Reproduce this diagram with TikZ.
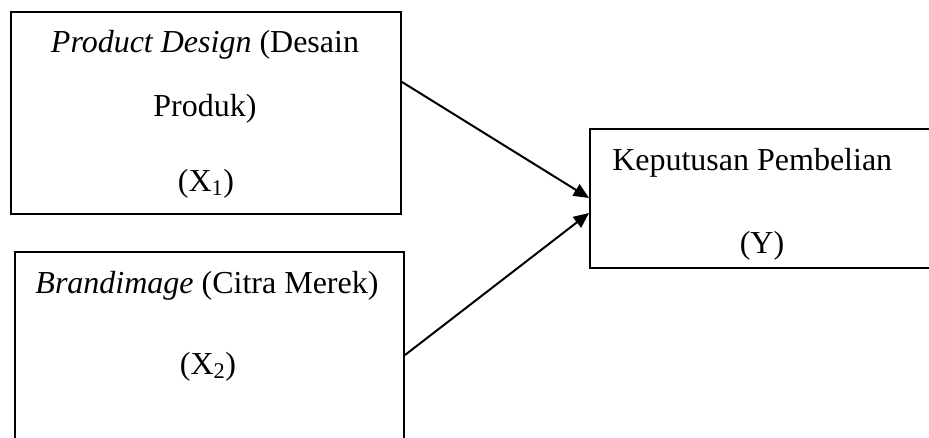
\documentclass[tikz,border=0pt]{standalone}
\usepackage{fontspec}
\setmainfont{Liberation Serif}
\usetikzlibrary{arrows.meta, positioning, calc}
\tikzset{
    varbox/.style={draw, line width=1.5pt, inner sep=0pt, anchor=north west},
    boxtext/.style={anchor=base, inner sep=0pt, font=\fontsize{24}{28}\selectfont},
    link/.style={line width=1.5pt, -{Triangle[length=11.5pt,width=10pt]}}
}

\begin{document}
\begin{tikzpicture}[x=0.75pt, y=-0.75pt]
    % Frame of the picture, boxes running past it are cut off
    \clip (0,0) rectangle (929,437);

    % Variable boxes
    \node[varbox, minimum width=292.5pt, minimum height=151.5pt] (pd) at (10,11) {};
    \node[varbox, minimum width=291.75pt, minimum height=160pt] (bi) at (14,251) {};
    \node[varbox, minimum width=261pt, minimum height=104.25pt] (kp) at (589,128) {};

    % Texts inside the boxes
    \node[boxtext] (pd title) at (205,52) {\textit{Product Design} (Desain};
    \node[boxtext] (pd title2) at (205,116) {Produk)};
    \node[boxtext] (pd var) at (206,191) {(X\textsubscript{1})};
    \node[boxtext] (bi title) at (207,293) {\textit{Brandimage} (Citra Merek)};
    \node[boxtext] (bi var) at (208,374) {(X\textsubscript{2})};
    \node[boxtext, anchor=base west] (kp title) at (612,170) {Keputusan Pembelian};
    \node[boxtext] (kp var) at (762,253) {(Y)};

    % Connectors
    \coordinate (pd out) at ($(pd.north east)+(0,71)$);
    \coordinate (bi out) at ($(bi.north east)+(0,104)$);
    \coordinate (kp in1) at ($(kp.north west)+(0,70)$);
    \coordinate (kp in2) at ($(kp.north west)+(0,85)$);
    \draw[link] (pd out) -- (kp in1);
    \draw[link] (bi out) -- (kp in2);
\end{tikzpicture}
\end{document}
